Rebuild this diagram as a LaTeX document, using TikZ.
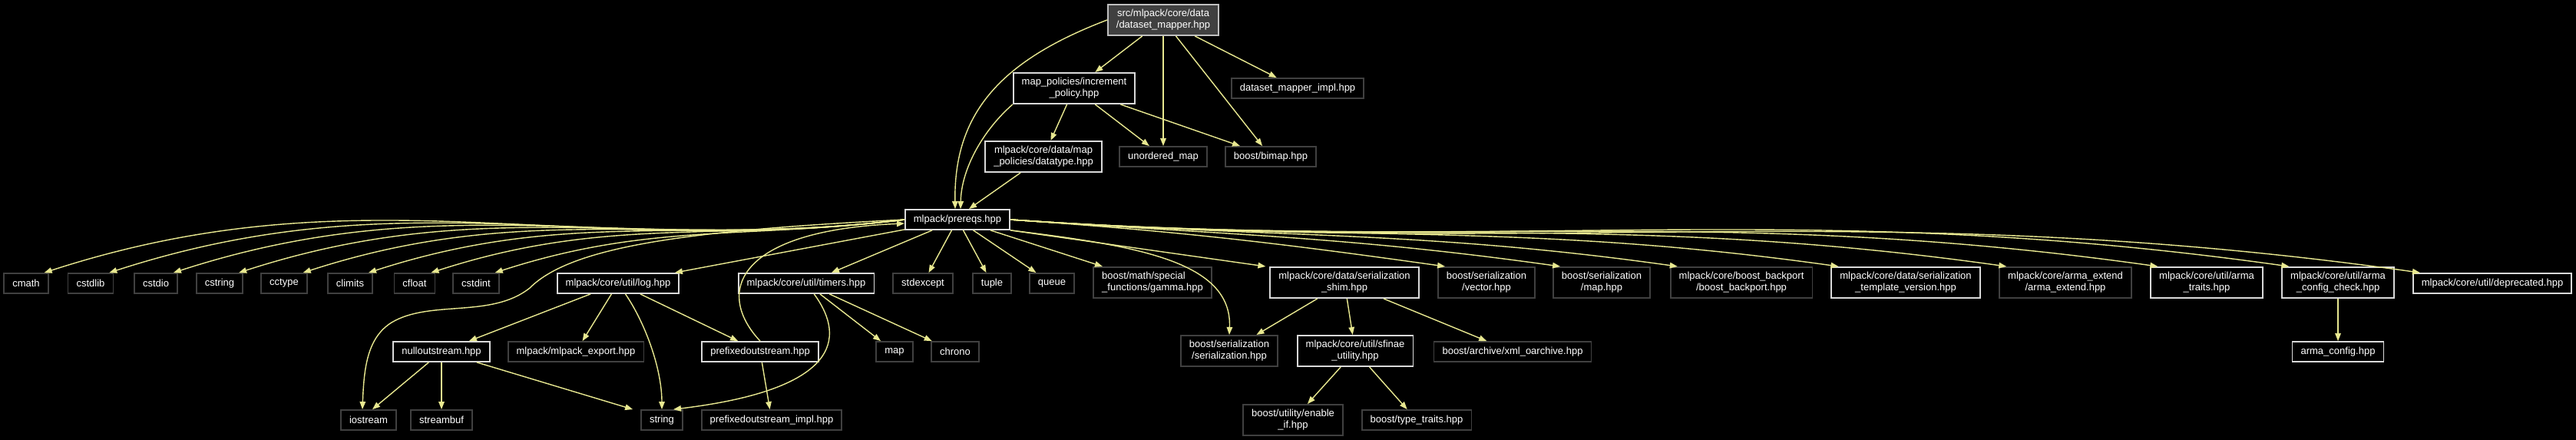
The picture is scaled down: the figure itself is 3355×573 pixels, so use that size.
\documentclass[tikz,border=0pt]{standalone}
\usepackage{fontspec}
\setmainfont{Liberation Sans}
\usepackage{xcolor}
\usepackage{tikz}
\usetikzlibrary{arrows.meta}
\definecolor{edgeyellow}{RGB}{232,232,144}
\definecolor{srcfill}{RGB}{64,64,64}
\tikzset{
	srcbox/.style={draw=white!75!black, fill=srcfill, text=white, line width=0.5pt, inner xsep=0.11cm, inner ysep=0.065cm, minimum height=0.26cm, align=center, font=\fontsize{3.7}{4.3}\selectfont},
	docbox/.style={draw=white!85!black, text=white, line width=0.5pt, inner xsep=0.11cm, inner ysep=0.065cm, minimum height=0.26cm, align=center, font=\fontsize{3.7}{4.3}\selectfont},
	sysbox/.style={draw=white!25!black, text=white, line width=0.5pt, inner xsep=0.11cm, inner ysep=0.065cm, minimum height=0.26cm, align=center, font=\fontsize{3.7}{4.3}\selectfont},
	incarr/.style={->, draw=edgeyellow, line width=0.4pt, >={Triangle[length=0.1cm, width=0.075cm, fill=edgeyellow]}},
}

\begin{document}
\begin{tikzpicture}[x=0.01cm, y=-0.01cm]
	\fill[black] (0,0) rectangle (3355,573);
	\useasboundingbox (0,0) rectangle (3355,573);

	% upper part
	\node[srcbox] (mapper) at (1515,26) {src/mlpack/core/data\\/dataset\_mapper.hpp};
	\node[docbox] (incpol) at (1399,115) {map\_policies/increment\\\_policy.hpp};
	\node[sysbox] (mapimpl) at (1690,115) {dataset\_mapper\_impl.hpp};
	\node[docbox] (dtype) at (1359,204) {mlpack/core/data/map\\\_policies/datatype.hpp};
	\node[sysbox] (umap) at (1515,204) {unordered\_map};
	\node[sysbox] (bimap) at (1655,204) {boost/bimap.hpp};
	\node[docbox] (prereqs) at (1247,286) {mlpack/prereqs.hpp};

	% row under prereqs
	\node[sysbox] (cmath) at (34,369) {cmath};
	\node[sysbox] (cstdlib) at (118,369) {cstdlib};
	\node[sysbox] (cstdio) at (203,369) {cstdio};
	\node[sysbox] (cstring) at (286,369) {cstring};
	\node[sysbox] (cctype) at (370,369) {cctype};
	\node[sysbox] (climits) at (456,369) {climits};
	\node[sysbox] (cfloat) at (540,369) {cfloat};
	\node[sysbox] (cstdint) at (620,369) {cstdint};
	\node[docbox] (log) at (805,369) {mlpack/core/util/log.hpp};
	\node[docbox] (timers) at (1050,369) {mlpack/core/util/timers.hpp};
	\node[sysbox] (stdexcept) at (1202,369) {stdexcept};
	\node[sysbox] (tuple) at (1292,369) {tuple};
	\node[sysbox] (queue) at (1370,369) {queue};
	\node[sysbox, align=left] (gamma) at (1501,368) {boost/math/special\\\_functions/gamma.hpp};
	\node[docbox] (shim) at (1751,368) {mlpack/core/data/serialization\\\_shim.hpp};
	\node[sysbox] (vector) at (1936,368) {boost/serialization\\/vector.hpp};
	\node[sysbox] (smap) at (2086,368) {boost/serialization\\/map.hpp};
	\node[sysbox] (backport) at (2268,368) {mlpack/core/boost\_backport\\/boost\_backport.hpp};
	\node[docbox] (tplver) at (2482,368) {mlpack/core/data/serialization\\\_template\_version.hpp};
	\node[sysbox] (armaext) at (2690,368) {mlpack/core/arma\_extend\\/arma\_extend.hpp};
	\node[docbox] (armatraits) at (2874,368) {mlpack/core/util/arma\\\_traits.hpp};
	\node[docbox] (armacheck) at (3045,368) {mlpack/core/util/arma\\\_config\_check.hpp};
	\node[docbox] (deprec) at (3246,369) {mlpack/core/util/deprecated.hpp};

	% lower rows
	\node[docbox] (nullout) at (575,458) {nulloutstream.hpp};
	\node[sysbox] (export) at (750,458) {mlpack/mlpack\_export.hpp};
	\node[docbox] (prefout) at (990,458) {prefixedoutstream.hpp};
	\node[sysbox] (map) at (1165,458) {map};
	\node[sysbox] (chrono) at (1244,458) {chrono};
	\node[sysbox] (serial) at (1601,457) {boost/serialization\\/serialization.hpp};
	\node[docbox] (sfinae) at (1765,457) {mlpack/core/util/sfinae\\\_utility.hpp};
	\node[sysbox] (xmlarch) at (1970,458) {boost/archive/xml\_oarchive.hpp};
	\node[docbox] (armaconf) at (3045,458) {arma\_config.hpp};
	\node[sysbox] (iostream) at (480,547) {iostream};
	\node[sysbox] (streambuf) at (575,547) {streambuf};
	\node[sysbox] (string) at (862,547) {string};
	\node[sysbox] (prefimpl) at (1005,547) {prefixedoutstream\_impl.hpp};
	\node[sysbox] (enableif) at (1684,547) {boost/utility/enable\\\_if.hpp};
	\node[sysbox] (typetr) at (1845,547) {boost/type\_traits.hpp};

	% edges of the top file
	\draw[incarr] (mapper) -- (incpol);
	\draw[incarr] (mapper.south) -- (umap);
	\draw[incarr] (mapper) -- (bimap);
	\draw[incarr] (mapper) -- (mapimpl);
	\draw[incarr] (mapper.west) .. controls (1300,80) and (1242,150) .. ([xshift=-0.03cm]prereqs.north);
	\draw[incarr] (incpol) -- (dtype);
	\draw[incarr] (incpol) -- (umap);
	\draw[incarr] (incpol) -- (bimap);
	\draw[incarr] (incpol.south west) .. controls (1280,170) and (1252,220) .. ([xshift=0.04cm]prereqs.north);
	\draw[incarr] (dtype) -- ([xshift=0.15cm]prereqs.north);

	% edges of prereqs
	\foreach \n in {cmath,cstdlib,cstdio,cstring,cctype,climits,cfloat,cstdint}
		\draw[incarr] (prereqs.west) to[out=187, in=18] ([xshift=-0.06cm]\n.north east);
	\foreach \n in {vector,smap,backport,tplver,armaext,armatraits,armacheck,deprec}
		\draw[incarr] (prereqs.east) to[out=-4, in=172] ([xshift=0.1cm]\n.north west);
	\draw[incarr] (prereqs) -- (log);
	\draw[incarr] (prereqs) -- (timers);
	\draw[incarr] (prereqs) -- (stdexcept);
	\draw[incarr] (prereqs) -- (tuple);
	\draw[incarr] (prereqs) -- (queue);
	\draw[incarr] (prereqs) -- (gamma);
	\draw[incarr] (prereqs.south east) -- ([xshift=-0.05cm]shim.north west);
	\draw[incarr] (prereqs.south east) .. controls (1480,320) and (1605,340) .. (serial.north);
	\draw[incarr] (prereqs.west) .. controls (900,300) and (745,320) .. (690,375)
		.. controls (640,415) and (560,390) .. (510,420)
		.. controls (478,440) and (474,480) .. ([xshift=-0.08cm]iostream.north);

	% edges of the util headers
	\draw[incarr] (log) -- (nullout);
	\draw[incarr] (log) -- (export);
	\draw[incarr] (log) .. controls (840,420) and (862,480) .. (string);
	\draw[incarr] (log) -- (prefout);
	\draw[incarr] (timers) -- (map);
	\draw[incarr] (timers) -- (chrono);
	\draw[incarr] (timers) .. controls (1095,430) and (1110,505) .. ([xshift=0.15cm]string.north);
	\draw[incarr] (prefout.north) .. controls (930,380) and (960,300) .. ([yshift=-0.05cm]prereqs.west);
	\draw[incarr] (prefout) -- (prefimpl);
	\draw[incarr] (nullout) -- ([xshift=0.05cm]iostream.north);
	\draw[incarr] (nullout) -- (streambuf);
	\draw[incarr] (nullout) -- ([xshift=-0.1cm]string.north west);

	% edges of the shim and the arma check
	\draw[incarr] (shim) -- (serial);
	\draw[incarr] (shim) -- (sfinae);
	\draw[incarr] (shim) -- (xmlarch);
	\draw[incarr] (sfinae) -- (enableif);
	\draw[incarr] (sfinae) -- (typetr);
	\draw[incarr] (armacheck) -- (armaconf);
\end{tikzpicture}
\end{document}
